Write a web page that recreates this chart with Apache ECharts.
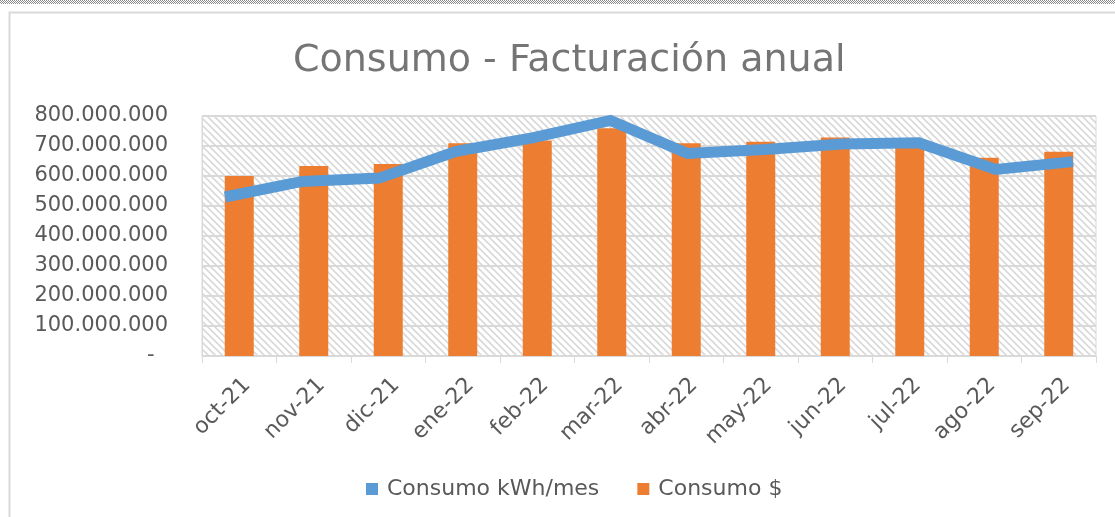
<!DOCTYPE html>
<html>
<head>
<meta charset="utf-8">
<title>Consumo - Facturación anual</title>
<script src="https://cdn.jsdelivr.net/npm/echarts@6/dist/echarts.min.js"></script>
<style>
html,body{margin:0;padding:0;background:#fff;}
#echart1{width:1115px;height:517px;}
</style>
</head>
<body>
<div id="echart1"></div>
<script>
// datos
var meses = ['oct-21','nov-21','dic-21','ene-22','feb-22','mar-22','abr-22','may-22','jun-22','jul-22','ago-22','sep-22'];
var consumoKwh = [530000000, 582000000, 593000000, 682000000, 728000000, 785000000, 675000000, 688000000, 707000000, 711000000, 622000000, 648000000];
var consumoPesos = [600000000, 633000000, 640000000, 709000000, 718000000, 759000000, 709000000, 714000000, 728000000, 712000000, 661000000, 681000000];
var ejeMax = 800000000;
var ejePaso = 100000000;

var fuente = 'DejaVu Sans';
var grisTexto = '#595959';
var grisLinea = '#d9d9d9';

function formatMiles(v) {
    if (v === 0) return '-  ';
    return String(v).replace(/\B(?=(\d{3})+(?!\d))/g, '.');
}

// fondo rayado del area de trazado
function rayado() {
    var c = document.createElement('canvas');
    c.width = 7; c.height = 7;
    var ctx = c.getContext('2d');
    ctx.fillStyle = '#ffffff';
    ctx.fillRect(0, 0, 7, 7);
    ctx.strokeStyle = '#d9d9d9';
    ctx.lineWidth = 1.6;
    ctx.beginPath();
    ctx.moveTo(-1, -1); ctx.lineTo(8, 8);
    ctx.moveTo(-1, 6); ctx.lineTo(1, 8);
    ctx.moveTo(6, -1); ctx.lineTo(8, 1);
    ctx.stroke();
    return c;
}

// borde punteado de arriba (seleccion de excel)
function punteado() {
    var c = document.createElement('canvas');
    c.width = 2; c.height = 2;
    var ctx = c.getContext('2d');
    ctx.fillStyle = '#ffffff';
    ctx.fillRect(0, 0, 2, 2);
    ctx.fillStyle = '#8c8c8c';
    ctx.fillRect(0, 0, 1, 1);
    ctx.fillRect(1, 1, 1, 1);
    return c;
}

function initEchart(domId) {
    var myChart = echarts.init(document.getElementById(domId));
    var option = {
        backgroundColor: '#ffffff',
        animation: false,
        title: {
            text: 'Consumo - Facturación anual',
            left: 288,
            top: 37,
            textStyle: {
                fontSize: 38,
                fontFamily: fuente,
                fontWeight: 'normal',
                color: '#757575'
            }
        },
        legend: {
            data: [
                {name: 'Consumo kWh/mes', icon: 'rect'},
                {name: 'Consumo $', icon: 'rect'}
            ],
            left: 361,
            top: 473,
            itemWidth: 12,
            itemHeight: 12,
            itemGap: 38,
            textStyle: {
                fontSize: 22,
                fontFamily: fuente,
                color: grisTexto,
                padding: [0, 0, 0, 4]
            }
        },
        graphic: [
            {
                type: 'rect',
                shape: {x: 9.5, y: 12.5, width: 1200, height: 600},
                style: {fill: 'none', stroke: grisLinea, lineWidth: 2},
                silent: true
            },
            {
                type: 'rect',
                shape: {x: 0, y: 0, width: 1115, height: 4},
                style: {fill: {image: punteado(), repeat: 'repeat'}},
                silent: true
            }
        ],
        grid: [
            {
                left: 202, right: 19, top: 116, bottom: 161,
                show: true,
                backgroundColor: {image: rayado(), repeat: 'repeat'},
                borderColor: grisLinea,
                borderWidth: 1
            },
            {
                left: 225, right: 42, top: 116, bottom: 161
            }
        ],
        xAxis: [
            {
                type: 'category',
                gridIndex: 0,
                data: meses,
                axisLine: {show: true, lineStyle: {color: grisLinea, width: 1}},
                axisTick: {show: true, length: 7, lineStyle: {color: grisLinea}},
                axisLabel: {
                    interval: 0,
                    rotate: 45,
                    margin: 18,
                    verticalAlign: 'top',
                    fontSize: 22,
                    fontFamily: fuente,
                    color: grisTexto
                },
                splitLine: {show: false}
            },
            {
                // eje oculto para la linea (en excel va un poco mas ancha)
                type: 'category',
                gridIndex: 1,
                data: meses,
                boundaryGap: false,
                show: false
            }
        ],
        yAxis: [
            {
                type: 'value',
                gridIndex: 0,
                min: 0,
                max: ejeMax,
                interval: ejePaso,
                axisLine: {show: true, lineStyle: {color: grisLinea, width: 1}},
                axisTick: {show: false},
                axisLabel: {
                    margin: 34,
                    fontSize: 21,
                    fontFamily: fuente,
                    color: grisTexto,
                    formatter: formatMiles
                },
                splitLine: {show: true, lineStyle: {color: grisLinea, width: 2}}
            },
            {
                type: 'value',
                gridIndex: 1,
                min: 0,
                max: ejeMax,
                interval: ejePaso,
                show: false,
                splitLine: {show: false}
            }
        ],
        series: [
            {
                name: 'Consumo $',
                type: 'bar',
                xAxisIndex: 0,
                yAxisIndex: 0,
                barWidth: 29,
                itemStyle: {color: '#ed7d31'},
                data: consumoPesos
            },
            {
                name: 'Consumo kWh/mes',
                type: 'line',
                xAxisIndex: 1,
                yAxisIndex: 1,
                z: 5,
                symbol: 'none',
                lineStyle: {color: '#5b9bd5', width: 11, join: 'miter'},
                itemStyle: {color: '#5b9bd5'},
                data: consumoKwh
            }
        ]
    };
    myChart.setOption(option);
}

window.onload = function () {
    initEchart('echart1');
};
</script>
</body>
</html>
